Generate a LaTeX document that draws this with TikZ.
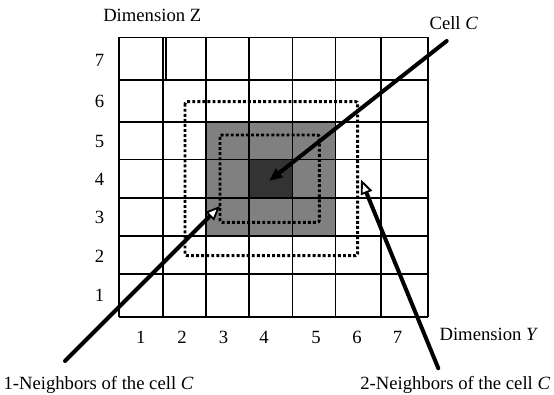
\documentclass[tikz,border=0pt]{standalone}
\usepackage{fontspec}
\setmainfont{Liberation Serif}
\usepackage{tikz}
\usetikzlibrary{arrows.meta}
\definecolor{GridMid}{HTML}{808080}
\definecolor{GridDark}{HTML}{333333}
\tikzset{
  lbl/.style={inner sep=0pt,font=\fontsize{14}{16}\selectfont},
  gridline/.style={line width=1.3pt},
  nbhd/.style={line width=2.2pt,dash pattern=on 2.2pt off 1.6pt,rounded corners=1.5pt},
  pointer/.style={line width=3pt,line cap=round},
}

\begin{document}
\begin{tikzpicture}[x=0.75pt,y=-0.75pt]
\path[use as bounding box] (0,0) rectangle (554,395);
% shaded cells
\fill[GridMid] (205.7,122) rectangle (335.5,236);
\fill[GridDark] (249.3,159.5) rectangle (292.5,198);
% grid
\foreach \x in {118.7,163.3,205.7,249.3,292.5,335.5,380.7,427.7}
  \draw[gridline] (\x,37.5) -- (\x,316.7);
\foreach \y in {37.5,80,122,159.5,198,236,274,316.7}
  \draw[gridline] (118.7,\y) -- (427.7,\y);
\draw[gridline] (165.8,37.5) rectangle (205.7,80);
% neighbourhoods
\draw[nbhd] (185,101.7) rectangle (357.7,255.7);
\draw[nbhd] (220,135) rectangle (319.3,222.3);
% axis numbers
\foreach \n/\y in {7/60,6/101,5/141,4/179,3/217,2/256,1/295}
  \node[lbl] (row\n) at (99.5,\y) {\n};
\foreach \n/\x in {1/140.7,2/182,3/223.5,4/264,5/316,6/357,7/397.5}
  \node[lbl] (col\n) at (\x,337) {\n};
% labels
\node[lbl,anchor=base west] (dimZ) at (103,22) {Dimension Z};
\node[lbl,anchor=base west] (dimY) at (439.3,341) {Dimension \textit{Y}};
\node[lbl,anchor=base west] (cellC) at (429.3,30) {Cell \textit{C}};
\node[lbl,anchor=base west] (nbOne) at (3.3,390) {1-Neighbors of the cell \textit{C}};
\node[lbl,anchor=base west] (nbTwo) at (360,390) {2-Neighbors of the cell \textit{C}};
% pointers
\coordinate (cellTail) at (446.7,41);
\coordinate (cellTip) at (269,181);
\coordinate (oneTail) at (65,361);
\coordinate (oneTip) at (220,206);
\coordinate (twoTail) at (438.3,368.3);
\coordinate (twoTip) at (361,179.5);
\draw[pointer,-{Triangle[length=10pt,width=8pt]}] (cellTail) -- (cellTip);
\draw[pointer,-{Triangle[fill=white,line width=1.4pt,length=11pt,width=9pt]}] (oneTail) -- (oneTip);
\draw[pointer,-{Triangle[fill=white,line width=1.4pt,length=11pt,width=9pt]}] (twoTail) -- (twoTip);
\end{tikzpicture}
\end{document}
